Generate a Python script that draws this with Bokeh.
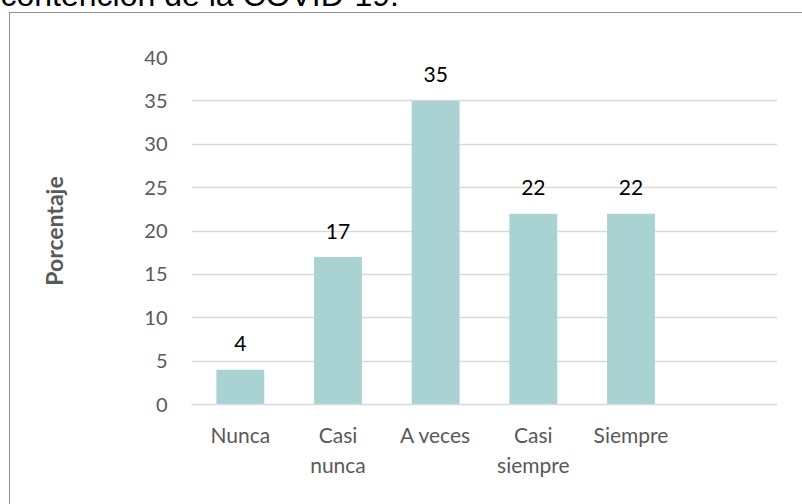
from bokeh.plotting import figure
from bokeh.models import ColumnDataSource, FactorRange, Range1d, SingleIntervalTicker
from bokeh.core.properties import value
from bokeh.embed import file_html
from bokeh.resources import INLINE

categories = ["Nunca", "Casi\nnunca", "A veces", "Casi\nsiempre", "Siempre", " "]
bar_categories = ["Nunca", "Casi\nnunca", "A veces", "Casi\nsiempre", "Siempre"]
porcentajes = [4, 17, 35, 22, 22]
y_ticks_step = 5
y_max = 40
title_text = "contención de la COVID-19."
y_label = "Porcentaje"

FONT = "Lato"
GREY = "#595959"

source = ColumnDataSource(dict(
    cat=bar_categories,
    val=porcentajes,
    lbl=[str(v) for v in porcentajes],
))

p = figure(
    width=806, height=587,
    x_range=FactorRange(*categories, range_padding=0),
    y_range=Range1d(0, y_max),
    output_backend="svg", toolbar_location=None,
    min_border_left=195, min_border_right=25,
    min_border_top=140, min_border_bottom=100,
)
# border box drawn as an L-shaped inset shadow (box is cut off right/bottom)
p.styles = {
    "margin-top": "-83px", "margin-left": "-4px",
    "box-shadow": "inset 13px 95px 0 0 #ffffff, inset 14px 96px 0 0 #8F8F8F",
}
p.outline_line_color = None
p.background_fill_color = "white"
p.border_fill_color = None

# title (cut off at top of page, as in reference)
p.title.text = title_text
p.title.text_font = "Liberation Sans"
p.title.text_font_size = "32px"
p.title.text_font_style = "normal"
p.title.text_color = "black"
p.title.align = "left"
p.title.offset = -191
p.title.standoff = 89

p.vbar(x="cat", top="val", width=0.49, source=source,
       fill_color="#A9D2D3", line_color=None)

p.text(x="cat", y="val", text="lbl", source=source,
       text_align="center", text_baseline="alphabetic", y_offset=-26,
       text_font=value(FONT), text_font_size="21px", text_color="black")

# grid
p.xgrid.grid_line_color = None
p.ygrid.ticker = SingleIntervalTicker(interval=y_ticks_step)
p.ygrid.grid_line_color = "#D9D9D9"
p.ygrid.grid_line_width = 1.5

# y axis
p.yaxis.ticker = SingleIntervalTicker(interval=y_ticks_step)
p.yaxis.axis_line_color = None
p.yaxis.major_tick_line_color = None
p.yaxis.minor_tick_line_color = None
p.yaxis.major_tick_out = 0
p.yaxis.major_label_standoff = 20
p.yaxis.major_label_text_font = FONT
p.yaxis.major_label_text_font_size = "20px"
p.yaxis.major_label_text_color = GREY
p.yaxis.axis_label = y_label
p.yaxis.axis_label_text_font = FONT
p.yaxis.axis_label_text_font_style = "bold"
p.yaxis.axis_label_text_font_size = "23px"
p.yaxis.axis_label_text_color = GREY
p.yaxis.axis_label_standoff = 73

# x axis
p.xaxis.axis_line_color = "#D9D9D9"
p.xaxis.axis_line_width = 1.5
p.xaxis.major_tick_line_color = None
p.xaxis.major_tick_out = 0
p.xaxis.major_label_standoff = 17
p.xaxis.major_label_text_font = FONT
p.xaxis.major_label_text_font_size = "21px"
p.xaxis.major_label_text_color = GREY

open("out.html", "w").write(file_html(p, INLINE))
